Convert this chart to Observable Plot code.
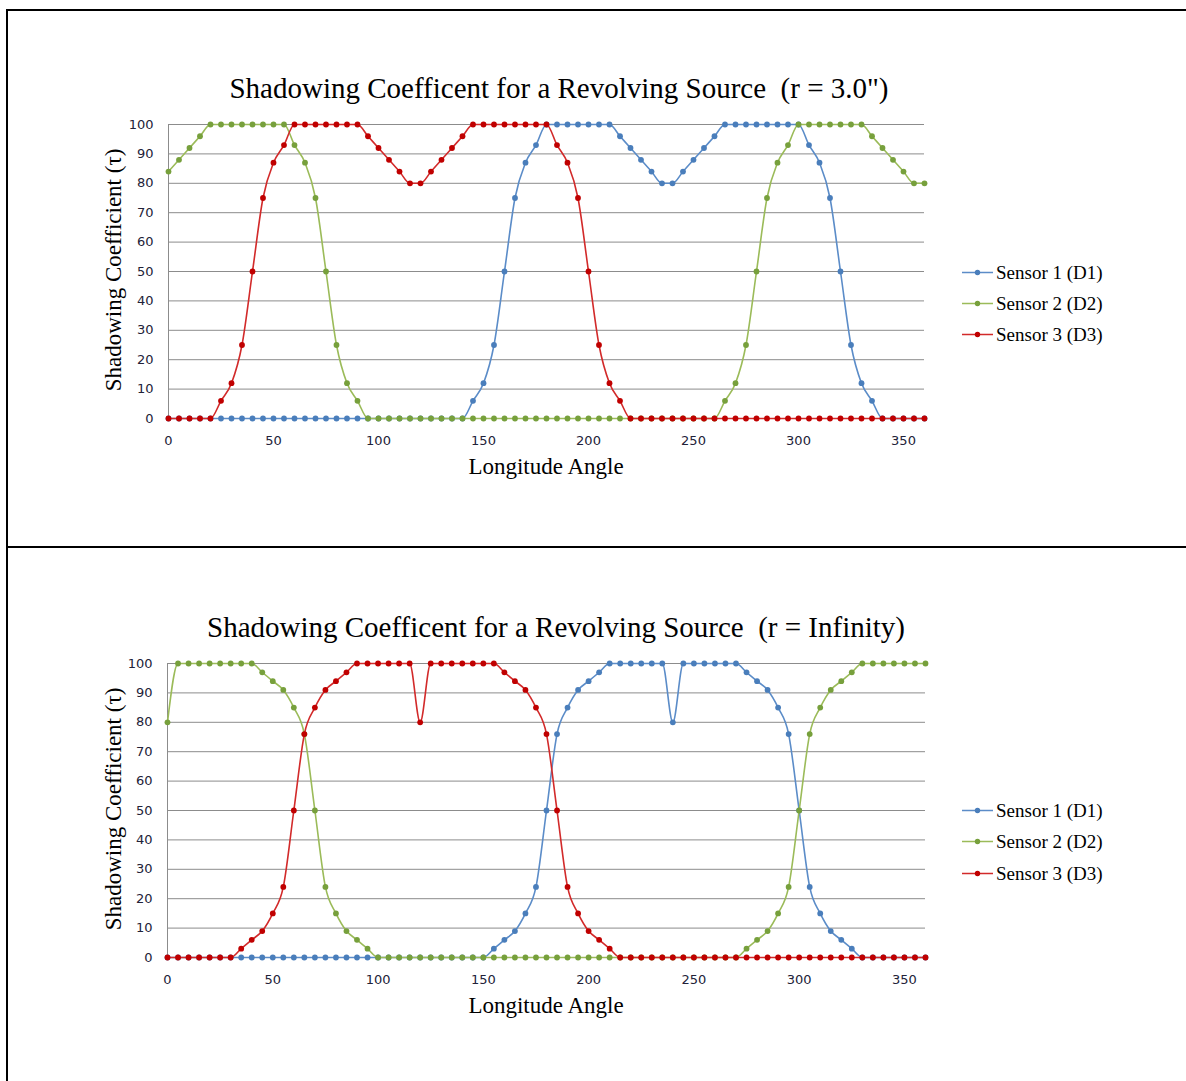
<!DOCTYPE html>
<html>
<head>
<meta charset="utf-8">
<script src="https://cdn.jsdelivr.net/npm/d3@7"></script>
<script src="https://cdn.jsdelivr.net/npm/@observablehq/plot@0.6"></script>
<style>
  html, body { margin: 0; padding: 0; background: #fff; }
  #root { position: relative; width: 1186px; height: 1081px; overflow: hidden; background: #fff; }
  .bar { position: absolute; background: #000; }
  .txt { position: absolute; white-space: pre; font-family: "Liberation Serif", "Times New Roman", serif; color: #000; transform: translate(-50%, -50%); line-height: 1; }
  .ylab { transform: translate(-50%, -50%) rotate(-90deg); }
  .leg { position: absolute; display: flex; align-items: center; font-family: "Liberation Serif", serif; font-size: 19px; color: #000; white-space: pre; transform: translateY(-50%); line-height: 1; }
  .leg svg { margin-right: 3px; }
  svg.chart { position: absolute; left: 0; }
</style>
</head>
<body>
<div id="root"></div>
<script>
// ---------------- data ----------------
const angles = [0,5,10,15,20,25,30,35,40,45,50,55,60,65,70,75,80,85,90,95,100,105,110,115,120,125,130,135,140,145,150,155,160,165,170,175,180,185,190,195,200,205,210,215,220,225,230,235,240,245,250,255,260,265,270,275,280,285,290,295,300,305,310,315,320,325,330,335,340,345,350,355,360];

const sensorNames = ["Sensor 1 (D1)", "Sensor 2 (D2)", "Sensor 3 (D3)"];
const lineColors = ["#5b8cc8", "#9bbb59", "#d22a2a"];
const dotColors  = ["#4a7ebb", "#77a03c", "#c00000"];

// Chart 1: r = 3.0"
const r3_sensor1 = [0,0,0,0,0,0,0,0,0,0,0,0,0,0,0,0,0,0,0,0,0,0,0,0,0,0,0,0,0,
  6,12,25,50,75,87,93,
  100,100,100,100,100,100,100,
  96,92,88,84,80,80,84,88,92,96,
  100,100,100,100,100,100,100,100,
  93,87,75,50,25,12,6,
  0,0,0,0,0];
const r3_sensor2 = [84,88,92,96,
  100,100,100,100,100,100,100,100,
  93,87,75,50,25,12,6,
  0,0,0,0,0,0,0,0,0,0,0,0,0,0,0,0,0,0,0,0,0,0,0,0,0,0,0,0,0,0,0,0,0,0,
  6,12,25,50,75,87,93,
  100,100,100,100,100,100,100,
  96,92,88,84,80,80];
const r3_sensor3 = [0,0,0,0,0,
  6,12,25,50,75,87,93,
  100,100,100,100,100,100,100,
  96,92,88,84,80,80,84,88,92,96,
  100,100,100,100,100,100,100,100,
  93,87,75,50,25,12,6,
  0,0,0,0,0,0,0,0,0,0,0,0,0,0,0,0,0,0,0,0,0,0,0,0,0,0,0,0,0];

// Chart 2: r = Infinity
const rInf_sensor1 = [0,0,0,0,0,0,0,0,0,0,0,0,0,0,0,0,0,0,0,0,0,0,0,0,0,0,0,0,0,0,0,
  3,6,9,15,24,50,76,85,91,94,97,
  100,100,100,100,100,100,
  80,
  100,100,100,100,100,100,
  97,94,91,85,76,50,24,15,9,6,3,
  0,0,0,0,0,0,0];
const rInf_sensor2 = [80,
  100,100,100,100,100,100,100,100,
  97,94,91,85,76,50,24,15,9,6,3,
  0,0,0,0,0,0,0,0,0,0,0,0,0,0,0,0,0,0,0,0,0,0,0,0,0,0,0,0,0,0,0,0,0,0,0,
  3,6,9,15,24,50,76,85,91,94,97,
  100,100,100,100,100,100,100];
const rInf_sensor3 = [0,0,0,0,0,0,0,
  3,6,9,15,24,50,76,85,91,94,97,
  100,100,100,100,100,100,
  80,
  100,100,100,100,100,100,100,
  97,94,91,85,76,50,24,15,9,6,3,
  0,0,0,0,0,0,0,0,0,0,0,0,0,0,0,0,0,0,0,0,0,0,0,0,0,0,0,0,0,0];

const xTicks = [0,50,100,150,200,250,300,350];
const yTicks = [0,10,20,30,40,50,60,70,80,90,100];

const titles = ["Shadowing Coefficent for a Revolving Source  (r = 3.0\")",
                "Shadowing Coefficent for a Revolving Source  (r = Infinity)"];
const xLabel = "Longitude Angle";
const yLabel = "Shadowing Coefficient (\u03C4)";

// ---------------- layout ----------------
const root = document.getElementById("root");
function bar(l, t, w, h) {
  const d = document.createElement("div");
  d.className = "bar";
  Object.assign(d.style, {left: l + "px", top: t + "px", width: w + "px", height: h + "px"});
  root.appendChild(d);
}
bar(6, 9, 1180, 2);
bar(6, 9, 2, 1072);
bar(6, 546, 1180, 2);

function text(str, x, y, size, cls) {
  const d = document.createElement("div");
  d.className = "txt" + (cls ? " " + cls : "");
  d.textContent = str;
  Object.assign(d.style, {left: x + "px", top: y + "px", fontSize: size + "px"});
  root.appendChild(d);
}

function makeChart(seriesValues, cfg) {
  const marks = [
    Plot.ruleY(yTicks, {y: d => d, stroke: "#8c8c8c", strokeWidth: 1}),
    Plot.ruleX([0], {x: d => d, stroke: "#8c8c8c", strokeWidth: 1}),
    Plot.axisX(xTicks, {tickSize: 0, tickPadding: 17, label: null, fontSize: 13}),
    Plot.axisY(yTicks, {tickSize: 0, tickPadding: 15, label: null, fontSize: 13})
  ];
  seriesValues.forEach((vals, k) => {
    const rows = angles.map((a, i) => ({angle: a, value: vals[i], sensor: sensorNames[k]}));
    marks.push(Plot.line(rows, {x: "angle", y: "value", stroke: lineColors[k], strokeWidth: 1.6, curve: "monotone-x"}));
    marks.push(Plot.dot(rows, {x: "angle", y: "value", fill: dotColors[k], r: 2.9, stroke: "none"}));
  });
  const svg = Plot.plot({
    width: 1186,
    height: 540,
    marginLeft: cfg.left,
    marginRight: 1186 - cfg.right,
    marginTop: cfg.top,
    marginBottom: 540 - cfg.bottom,
    x: {domain: [0, 360]},
    y: {domain: [0, 100]},
    style: {fontFamily: "'DejaVu Sans', sans-serif", fontSize: "13px", color: "#222238", background: "transparent"},
    marks
  });
  svg.classList.add("chart");
  svg.style.top = cfg.offset + "px";
  root.appendChild(svg);

  text(cfg.title, cfg.titleX, cfg.titleY, 29);
  text(xLabel, 546, cfg.xlabY, 23);
  text(yLabel, 113, cfg.ylabY, 23, "ylab");

  cfg.legendY.forEach((ly, k) => {
    const d = document.createElement("div");
    d.className = "leg";
    d.style.left = "962px";
    d.style.top = ly + "px";
    d.innerHTML = `<svg width="31" height="8"><line x1="0" y1="4" x2="31" y2="4" stroke="${lineColors[k]}" stroke-width="1.6"/><circle cx="15.5" cy="4" r="2.7" fill="${dotColors[k]}"/></svg><span>${sensorNames[k]}</span>`;
    root.appendChild(d);
  });
}

makeChart([r3_sensor1, r3_sensor2, r3_sensor3], {
  offset: 0, left: 168, right: 924, top: 124, bottom: 418,
  title: titles[0], titleX: 559, titleY: 88, xlabY: 466, ylabY: 270,
  legendY: [272, 303, 334]
});
makeChart([rInf_sensor1, rInf_sensor2, rInf_sensor3], {
  offset: 540, left: 167, right: 925, top: 123, bottom: 417,
  title: titles[1], titleX: 556, titleY: 627, xlabY: 1005, ylabY: 809,
  legendY: [810, 841, 873]
});
</script>
</body>
</html>
